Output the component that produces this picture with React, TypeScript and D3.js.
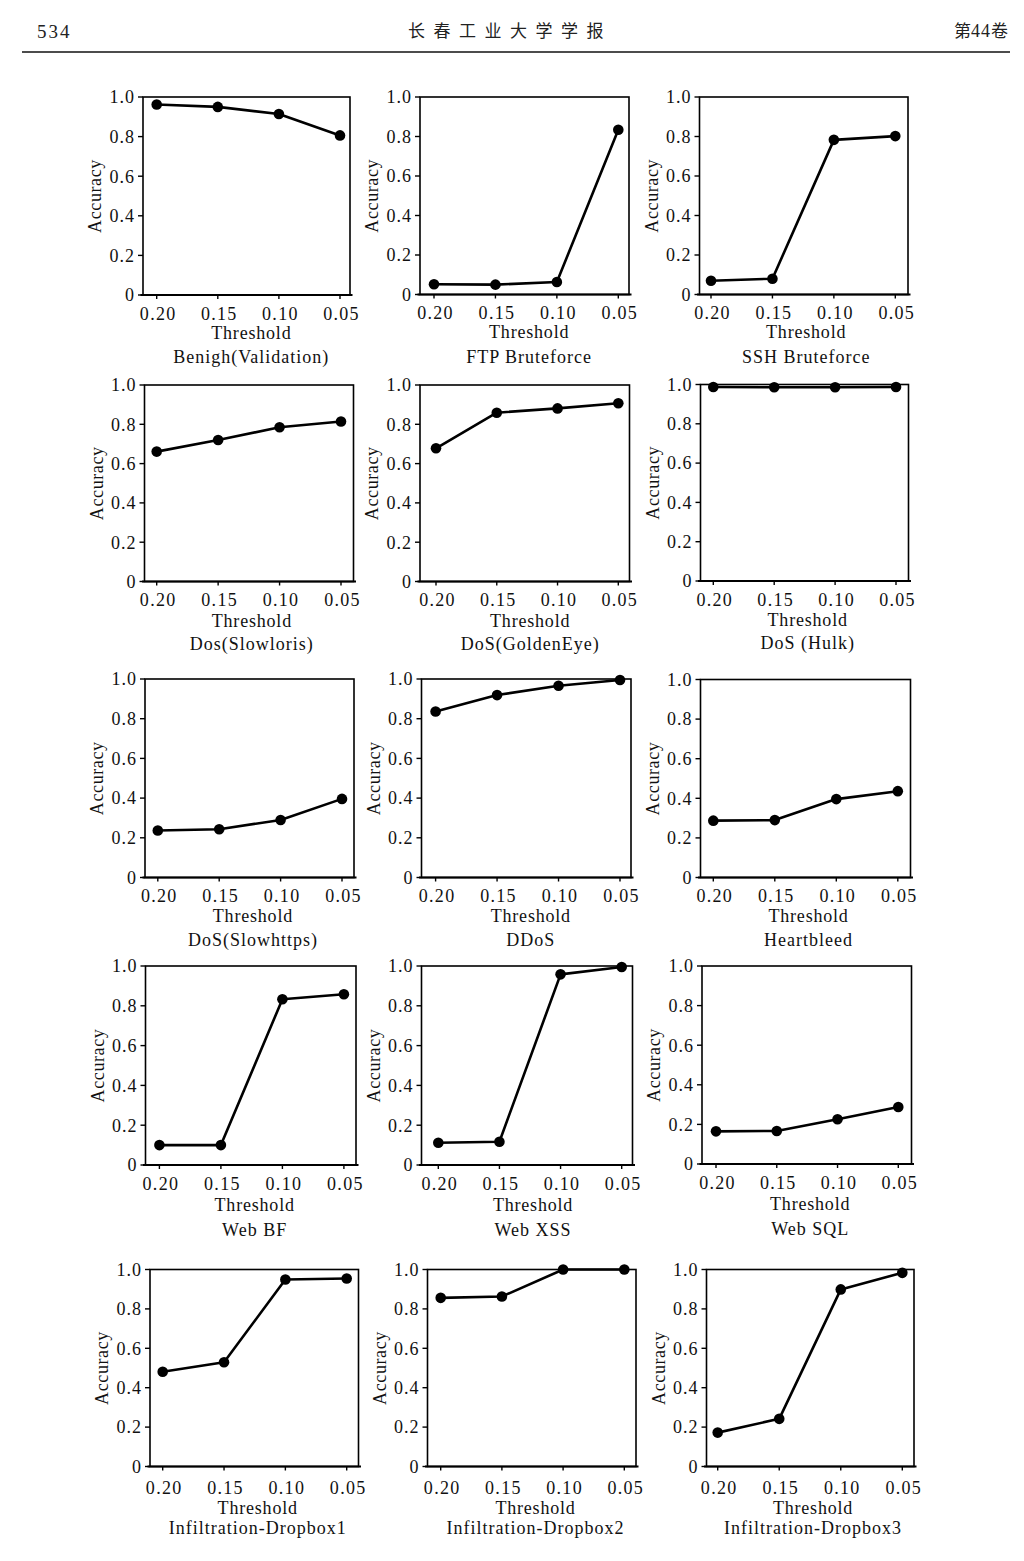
import React from "react";
import * as d3 from "d3";

// ---------- data ----------
const thresholds = [0.2, 0.15, 0.1, 0.05];
const thresholdLabels = ["0.20", "0.15", "0.10", "0.05"];
const yTicks = [0, 0.2, 0.4, 0.6, 0.8, 1.0];
const yTickLabels = ["0", "0.2", "0.4", "0.6", "0.8", "1.0"];

const panelTitles = [
  "Benigh(Validation)", "FTP Bruteforce", "SSH Bruteforce",
  "Dos(Slowloris)", "DoS(GoldenEye)", "DoS (Hulk)",
  "DoS(Slowhttps)", "DDoS", "Heartbleed",
  "Web BF", "Web XSS", "Web SQL",
  "Infiltration-Dropbox1", "Infiltration-Dropbox2", "Infiltration-Dropbox3",
];

const benign = [0.962, 0.95, 0.914, 0.806];
const ftpBrute = [0.052, 0.05, 0.063, 0.834];
const sshBrute = [0.07, 0.08, 0.783, 0.802];
const slowloris = [0.661, 0.72, 0.785, 0.814];
const goldenEye = [0.678, 0.859, 0.881, 0.907];
const hulk = [0.987, 0.986, 0.986, 0.987];
const slowhttps = [0.237, 0.243, 0.29, 0.396];
const ddos = [0.836, 0.919, 0.966, 0.995];
const heartbleed = [0.287, 0.29, 0.396, 0.436];
const webBF = [0.1, 0.1, 0.833, 0.858];
const webXSS = [0.112, 0.117, 0.958, 0.995];
const webSQL = [0.165, 0.167, 0.226, 0.288];
const dropbox1 = [0.481, 0.529, 0.949, 0.954];
const dropbox2 = [0.856, 0.863, 1.0, 1.0];
const dropbox3 = [0.172, 0.242, 0.899, 0.983];

const seriesList = [
  benign, ftpBrute, sshBrute,
  slowloris, goldenEye, hulk,
  slowhttps, ddos, heartbleed,
  webBF, webXSS, webSQL,
  dropbox1, dropbox2, dropbox3,
];

// ---------- layout (plot box + x-tick anchor positions) ----------
// [left, right, top, bottom, xAt0.20, xAt0.05]
const panelBoxes = [
  [143, 350, 97, 295, 156.7, 340],
  [420, 629, 97, 294.5, 434, 618.3],
  [699.5, 908, 97, 294.5, 711, 895.3],
  [144.5, 353.5, 385, 581.5, 156.7, 341],
  [420, 629.5, 385, 581.5, 436, 618.3],
  [700.5, 908.5, 384.5, 581, 713.3, 896],
  [145, 354, 679, 877.5, 157.8, 342],
  [421.5, 631, 679, 877.5, 435.6, 620],
  [700.5, 910.5, 679.5, 877.5, 713.3, 897.8],
  [145.5, 356, 966, 1165, 159.4, 343.9],
  [421.5, 632.5, 966, 1165, 438.3, 621.7],
  [702, 911.5, 966, 1164, 716, 898.3],
  [150, 358.5, 1269.5, 1466.5, 162.7, 346.7],
  [427.5, 636, 1269.5, 1466.5, 440.7, 624.3],
  [706.5, 914, 1269.5, 1466.5, 717.7, 902.3],
];
// per row: [tick label dy, "Threshold" dy, title dy]
const rowOffsets = [
  [18.5, 37.5, 62],
  [18.5, 39, 62],
  [18, 38, 62.5],
  [19, 39.5, 65],
  [21, 41.5, 61.5],
];

const FONT = "'Liberation Serif', 'Times New Roman', serif";

function Panel({ idx }: { idx: number }) {
  const [left, right, top, bottom, x20, x05] = panelBoxes[idx];
  const values = seriesList[idx];
  const [tickDy, thrDy, titleDy] = rowOffsets[Math.floor(idx / 3)];
  const x = d3.scaleLinear().domain([0.2, 0.05]).range([x20, x05]);
  const y = d3.scaleLinear().domain([0, 1]).range([bottom, top]);
  const pts = thresholds.map((t, i) => [x(t), y(values[i])] as [number, number]);
  const line = d3.line()(pts) || "";
  const cx = (x20 + x05) / 2 + 3;
  return (
    <g>
      <rect x={left} y={top} width={right - left} height={bottom - top}
        fill="none" stroke="#000" strokeWidth={1.6} />
      <line x1={left - 2.5} x2={right + 2.5} y1={bottom} y2={bottom} stroke="#000" strokeWidth={1.8} />
      {yTicks.map((t, i) => (
        <g key={"y" + i}>
          <line x1={left - 5} x2={left} y1={y(t)} y2={y(t)} stroke="#000" strokeWidth={1.4} />
          <text x={left - 8} y={y(t)} dy="0.35em" textAnchor="end" fontFamily={FONT}
            fontSize={18} letterSpacing={1} fill="#111">{yTickLabels[i]}</text>
        </g>
      ))}
      {thresholds.map((t, i) => (
        <g key={"x" + i}>
          <line x1={x(t)} x2={x(t)} y1={bottom} y2={bottom + 4} stroke="#000" strokeWidth={1.4} />
          <text x={x(t) + 1.5} y={bottom + tickDy} dy="0.35em" textAnchor="middle" fontFamily={FONT}
            fontSize={18} letterSpacing={1.3} fill="#111">{thresholdLabels[i]}</text>
        </g>
      ))}
      <text x={cx} y={bottom + thrDy} dy="0.35em" textAnchor="middle" fontFamily={FONT}
        fontSize={18} letterSpacing={0.8} fill="#111">Threshold</text>
      <text x={cx} y={bottom + titleDy} dy="0.35em" textAnchor="middle" fontFamily={FONT}
        fontSize={18} letterSpacing={1} fill="#111">{panelTitles[idx]}</text>
      <text transform={`translate(${left - 48},${(top + bottom) / 2}) rotate(-90)`}
        dy="0.35em" textAnchor="middle" fontFamily={FONT} fontSize={18} letterSpacing={0.6}
        fill="#111">Accuracy</text>
      <path d={line} fill="none" stroke="#000" strokeWidth={2.6} strokeLinejoin="round" />
      {pts.map((p, i) => (
        <circle key={"c" + i} cx={p[0]} cy={p[1]} r={5.3} fill="#000" />
      ))}
    </g>
  );
}

export default function App() {
  return (
    <svg width={1024} height={1561} viewBox="0 0 1024 1561"
      style={{ position: "absolute", left: 0, top: 0, background: "#fff" }}>
      <rect x={0} y={0} width={1024} height={1561} fill="#fff" />
      <text x={37} y={31} dy="0.35em" fontFamily={FONT} fontSize={19} letterSpacing={2} fill="#222">534</text>
      <text x={510} y={31} dy="0.35em" textAnchor="middle" fontFamily="'Noto Sans CJK SC', sans-serif"
        fontSize={17} letterSpacing={8.5} fill="#222">长春工业大学学报</text>
      <text x={1008} y={31} dy="0.35em" textAnchor="end" fontFamily="'Noto Sans CJK SC', sans-serif"
        fontSize={17} fill="#222">
        第<tspan fontFamily={FONT} fontSize={18} letterSpacing={1}>44</tspan>卷
      </text>
      <line x1={22} x2={1010} y1={52} y2={52} stroke="#111" strokeWidth={1.6} />
      {panelTitles.map((_, i) => <Panel key={i} idx={i} />)}
    </svg>
  );
}
